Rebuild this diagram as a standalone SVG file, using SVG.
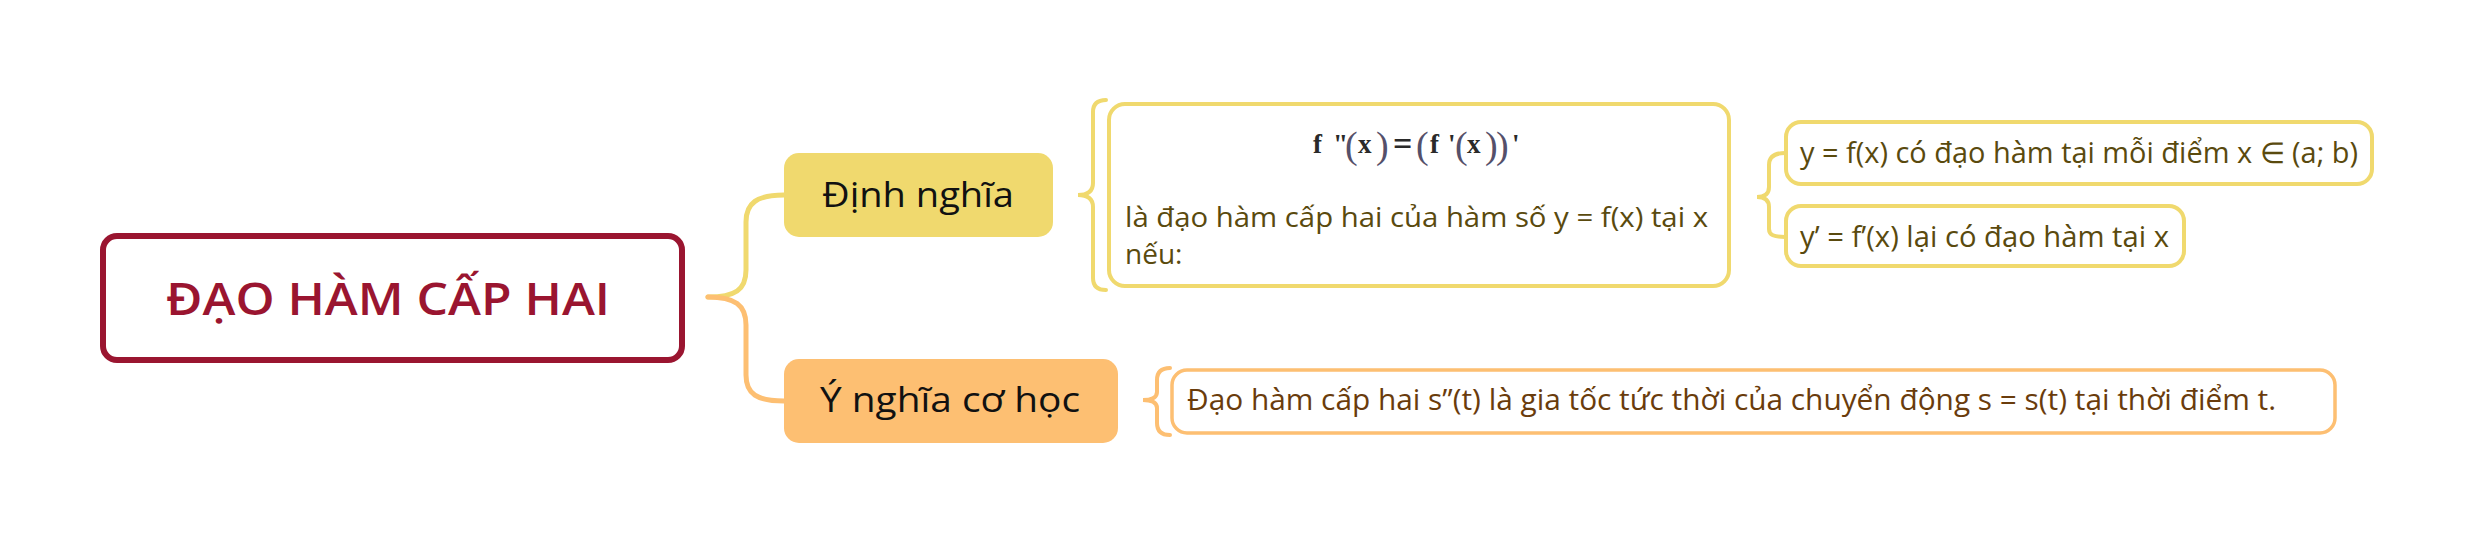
<svg xmlns="http://www.w3.org/2000/svg" width="2476" height="539" viewBox="0 0 2476 539">
<style>
  .sans { font-family: "Open Sans", "Noto Sans", "Liberation Sans", sans-serif; }
  .yel { stroke: #f0d96e; }
  .org { stroke: #fdbf72; }
  .conn { fill: none; stroke-width: 5; stroke-linecap: round; }
  .brace { fill: none; stroke-width: 4; stroke-linecap: round; }
  .olive { fill: #5a4a0e; }
  .brown { fill: #6a3c0c; }
  .frm { font-family: "Liberation Serif", "Times New Roman", serif; fill: #2a2a2a; font-weight: bold; font-size: 27px; }
  .par { font-weight: normal; font-size: 38px; fill: #55506a; }
  .eq { font-size: 34px; }
</style>
<rect x="0" y="0" width="2476" height="539" fill="#ffffff"/>

<g id="connectors">
  <path class="conn yel" d="M 708 297 C 735 297 746 290 746 270 L 746 222 C 746 203 757 195 784 195"/>
  <path class="conn org" d="M 708 297 C 735 297 746 305 746 325 L 746 375 C 746 394 757 401 784 401"/>
  <path class="brace yel" d="M 1106 100 C 1097 100 1093 104 1093 112 L 1093 183 C 1093 191 1088 195 1078 195 C 1088 195 1093 199 1093 207 L 1093 278 C 1093 286 1097 290 1106 290"/>
  <path class="brace yel" d="M 1785 153 C 1774 153 1769 157 1769 165 L 1769 187 C 1769 194 1765 197 1757 197 C 1765 197 1769 200 1769 207 L 1769 229 C 1769 235 1774 237 1785 237"/>
  <path class="brace org" d="M 1170 368 C 1161 368 1157 372 1157 380 L 1157 392 C 1157 397 1152 400 1143 400 C 1152 400 1157 403 1157 408 L 1157 423 C 1157 431 1161 435 1170 435"/>
</g>

<g id="root">
  <rect x="103" y="236" width="579" height="124" rx="14" fill="#ffffff" stroke="#9a1530" stroke-width="6"/>
  <text class="sans" x="166" y="315" font-size="46" font-weight="600" fill="#9a1530" textLength="444" lengthAdjust="spacingAndGlyphs">ĐẠO HÀM CẤP HAI</text>
</g>

<g id="dinh-nghia">
  <rect x="784" y="153" width="269" height="84" rx="15" fill="#f0d96e"/>
  <text class="sans" x="822" y="207" font-size="34" fill="#111111" textLength="192" lengthAdjust="spacingAndGlyphs">Định nghĩa</text>
</g>

<g id="y-nghia">
  <rect x="784" y="359" width="334" height="84" rx="15" fill="#fdbf72"/>
  <text class="sans" x="820" y="412" font-size="34" fill="#111111" textLength="260" lengthAdjust="spacingAndGlyphs">Ý nghĩa cơ học</text>
</g>

<g id="dinh-nghia-detail">
  <rect x="1109" y="104" width="620" height="182" rx="16" fill="#ffffff" class="yel" stroke-width="4"/>
  <text class="frm">
    <tspan x="1313" y="153">f</tspan>
    <tspan x="1333" y="153">"</tspan>
    <tspan class="par" x="1345" y="158">(</tspan>
    <tspan x="1358" y="153">x</tspan>
    <tspan class="par" x="1376" y="158">)</tspan>
    <tspan class="eq" x="1393" y="155">=</tspan>
    <tspan class="par" x="1416" y="158">(</tspan>
    <tspan x="1430" y="153">f</tspan>
    <tspan x="1448" y="153">'</tspan>
    <tspan class="par" x="1455" y="158">(</tspan>
    <tspan x="1467" y="153">x</tspan>
    <tspan class="par" x="1485" y="158">)</tspan>
    <tspan class="par" x="1496" y="158">)</tspan>
    <tspan x="1512" y="153">'</tspan>
  </text>
  <text class="sans olive" x="1125" y="227" font-size="28" textLength="583" lengthAdjust="spacingAndGlyphs">là đạo hàm cấp hai của hàm số y = f(x) tại x</text>
  <text class="sans olive" x="1125" y="264" font-size="28">nếu:</text>
</g>

<g id="cond-1">
  <rect x="1786" y="122" width="586" height="62" rx="15" fill="#ffffff" class="yel" stroke-width="4"/>
  <text class="sans olive" x="1800" y="163" font-size="29" textLength="558" lengthAdjust="spacingAndGlyphs">y = f(x) có đạo hàm tại mỗi điểm x ∈ (a; b)</text>
</g>

<g id="cond-2">
  <rect x="1786" y="206" width="398" height="60" rx="15" fill="#ffffff" class="yel" stroke-width="4"/>
  <text class="sans olive" x="1800" y="247" font-size="29" textLength="369" lengthAdjust="spacingAndGlyphs">y’ = f’(x) lại có đạo hàm tại x</text>
</g>

<g id="y-nghia-detail">
  <rect x="1172" y="370" width="1163" height="63" rx="15" fill="#ffffff" class="org" stroke-width="3.5"/>
  <text class="sans brown" x="1187" y="410" font-size="29" textLength="1089" lengthAdjust="spacingAndGlyphs">Đạo hàm cấp hai s”(t) là gia tốc tức thời của chuyển động s = s(t) tại thời điểm t.</text>
</g>
</svg>
